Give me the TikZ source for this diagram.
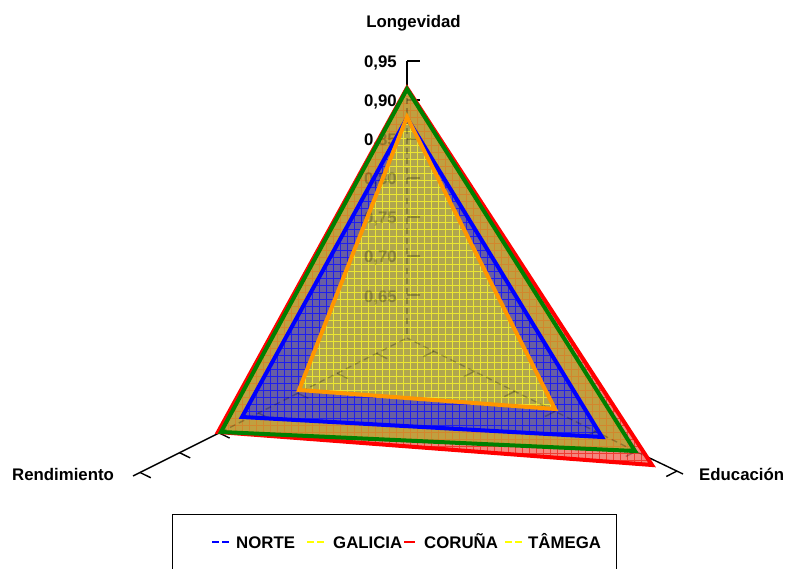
\documentclass[tikz,border=0pt]{standalone}
\usepackage{fontspec}
\setmainfont{Liberation Sans}
\definecolor{redfill}{RGB}{245,135,125}
\definecolor{redgrid}{RGB}{240,60,50}
\definecolor{olivefill}{RGB}{192,160,64}
\definecolor{olivegrid}{RGB}{210,135,45}
\definecolor{bluefill}{RGB}{104,94,164}
\definecolor{bluegrid}{RGB}{30,30,240}
\definecolor{yelfill}{RGB}{176,166,78}
\definecolor{yelgrid}{RGB}{235,230,50}
\definecolor{lred}{RGB}{255,0,0}
\definecolor{lgreen}{RGB}{0,128,0}
\definecolor{lblue}{RGB}{0,0,255}
\definecolor{lorange}{RGB}{255,150,0}
\definecolor{lyellow}{RGB}{255,255,0}
\tikzset{
  axisline/.style={black,line width=1.4pt},
  axisdash/.style={black,line width=1.4pt,dash pattern=on 6pt off 4pt},
  ticklab/.style={anchor=base east,inner sep=0pt},
  outline/.style={line width=4pt,line join=miter},
  gridl/.style={line width=0.75pt},
  leg/.style={anchor=base west,inner sep=0pt},
  legdash/.style={line width=2.5pt}
}
\newcommand\gridlines[1]{%
  \foreach \g in {0,...,68} \draw[gridl,#1] (200+\g*7,80) -- (200+\g*7,480);
  \foreach \g in {0,...,57} \draw[gridl,#1] (200,82+\g*7) -- (680,82+\g*7);
}
\newcommand\axisstuff{%
  \draw[axisline] (T) -- (rt);
  \draw[axisdash] (rt) -- (C);
  \draw[axisline] (L) -- (gl);
  \draw[axisdash] (gl) -- (C);
  \draw[axisline] (R) -- (gr);
  \draw[axisdash] (gr) -- (C);
  \foreach \yy in {61,100,...,295} \draw[axisline] (407,\yy) -- (420,\yy);
  \foreach \k in {0,...,6} {%
    \pgfmathsetmacro\xx{140+39.4*\k}
    \draw[axisline] ({\xx},{338+(407-\xx)*0.5036}) -- ++(10.8,5.3);
    \pgfmathsetmacro\xr{677-40.5*\k}
    \draw[axisline] ({\xr},{338+(\xr-407)*0.4928}) -- ++(-10.7,5.4);
  }
  \node[ticklab] (t95) at (397,68) {0,95};
  \node[ticklab] (t90) at (397,107) {0,90};
  \node[ticklab] (t85) at (397,146) {0,85};
  \node[ticklab] (t80) at (397,185) {0,80};
  \node[ticklab] (t75) at (397,224) {0,75};
  \node[ticklab] (t70) at (397,263) {0,70};
  \node[ticklab] (t65) at (397,302) {0,65};
}
\begin{document}
\begin{tikzpicture}[x=1pt,y=-1pt,font=\fontsize{16.8}{20}\selectfont\bfseries]
\useasboundingbox (0,0) rectangle (787,569);
\fill[white] (0,0) rectangle (787,569);
% axis geometry
\coordinate (C) at (407,338);
\coordinate (T) at (407,61);
\coordinate (L) at (133,476);
\coordinate (R) at (683,474);
% polygons
\coordinate (rt) at (407,88);  \coordinate (rl) at (218,432); \coordinate (rr) at (652,465);
\coordinate (gt) at (407,89);  \coordinate (gl) at (221,432); \coordinate (gr) at (635,451);
\coordinate (bt) at (407,118); \coordinate (bl) at (242,417); \coordinate (br) at (602,437);
\coordinate (ot) at (407,117); \coordinate (ol) at (299,390); \coordinate (or) at (555,409);
% axes, first pass
\axisstuff
% fills
\begin{scope}
  \clip (rt) -- (rl) -- (rr) -- cycle;
  \fill[redfill] (0,0) rectangle (787,569);
  \gridlines{redgrid}
\end{scope}
\begin{scope}
  \clip (gt) -- (gl) -- (gr) -- cycle;
  \fill[olivefill] (0,0) rectangle (787,569);
  \gridlines{olivegrid}
\end{scope}
\begin{scope}
  \clip (bt) -- (bl) -- (br) -- cycle;
  \fill[bluefill] (0,0) rectangle (787,569);
  \gridlines{bluegrid}
\end{scope}
\begin{scope}
  \clip (ot) -- (ol) -- (or) -- cycle;
  \fill[yelfill] (0,0) rectangle (787,569);
  \gridlines{yelgrid}
\end{scope}
% faded axes seen through fills
\begin{scope}[opacity=0.25]
  \clip (rt) -- (rl) -- (rr) -- cycle;
  \axisstuff
\end{scope}
% outlines
\draw[outline,lred] (rt) -- (rl) -- (rr) -- cycle;
\draw[outline,lgreen] (gt) -- (gl) -- (gr) -- cycle;
\draw[outline,lblue] (bt) -- (bl) -- (br) -- cycle;
\draw[outline,lorange] (ot) -- (ol) -- (or) -- cycle;
% axis titles
\node[anchor=base,inner sep=0pt] (longev) at (413.5,28) {Longevidad};
\node[anchor=base west,inner sep=0pt] (rend) at (12,480) {Rendimiento};
\node[anchor=base west,inner sep=0pt] (educ) at (699,480) {Educación};
% legend
\draw[line width=1pt] (172,514) rectangle (616,590);
\coordinate (d1a) at (212,542); \coordinate (d1b) at (219,542);
\coordinate (d1c) at (222,542); \coordinate (d1d) at (229,542);
\draw[legdash,lblue] (d1a) -- (d1b); \draw[legdash,lblue] (d1c) -- (d1d);
\node[leg] (lnorte) at (236,548) {NORTE};
\coordinate (d2a) at (307,542); \coordinate (d2b) at (314,542);
\coordinate (d2c) at (317,542); \coordinate (d2d) at (324,542);
\draw[legdash,lyellow] (d2a) -- (d2b); \draw[legdash,lyellow] (d2c) -- (d2d);
\node[leg] (lgal) at (333,548) {GALICIA};
\coordinate (d3a) at (404,542); \coordinate (d3b) at (415,542);
\draw[legdash,lred] (d3a) -- (d3b);
\node[leg] (lcor) at (424,548) {CORUÑA};
\coordinate (d4a) at (505,542); \coordinate (d4b) at (512,542);
\coordinate (d4c) at (515,542); \coordinate (d4d) at (522,542);
\draw[legdash,lyellow] (d4a) -- (d4b); \draw[legdash,lyellow] (d4c) -- (d4d);
\node[leg] (ltam) at (528,548) {TÂMEGA};
\end{tikzpicture}
\end{document}
